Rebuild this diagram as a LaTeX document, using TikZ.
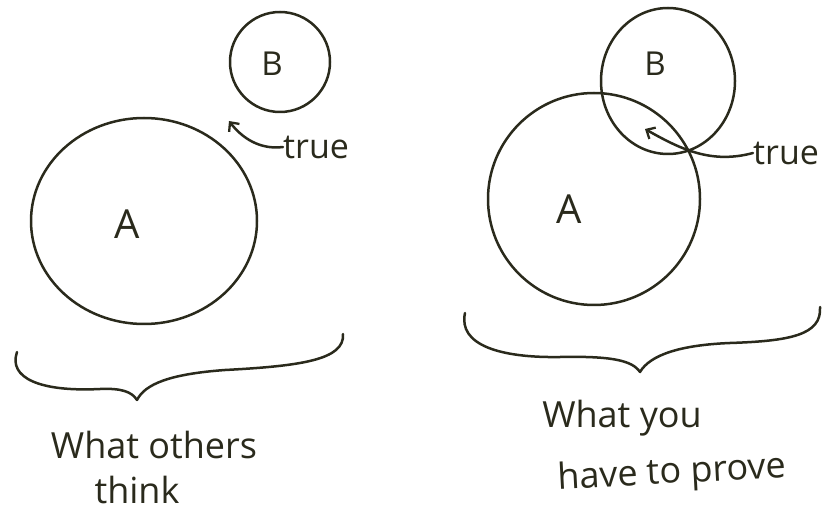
\documentclass[tikz,border=0pt]{standalone}
\usepackage{fontspec}
\setmainfont{Open Sans}
\usetikzlibrary{arrows.meta}
\definecolor{ink}{HTML}{2A2A1C}
\tikzset{
  pen/.style={draw=ink, line width=2.5pt, line cap=round, line join=round},
  lbl/.style={text=ink, inner sep=0pt},
  arr/.style={pen, -{Straight Barb[length=7pt,width=13pt,line width=2.3pt]}},
}
\begin{document}
\begin{tikzpicture}[x=1pt,y=-1pt]
\useasboundingbox (0,0) rectangle (825,513);
% ---- left picture ----
\draw[pen] (144,221) ellipse [x radius=113pt, y radius=103pt];
\draw[pen] (280,62) ellipse [x radius=50pt, y radius=50pt];
\node[lbl, font=\fontsize{40}{40}\selectfont] (Aleft) at (127,224) {A};
\node[lbl, font=\fontsize{33}{33}\selectfont] (Bleft) at (272,64) {B};
\node[lbl, font=\fontsize{34}{34}\selectfont, anchor=west] (trueleft) at (283,147) {true};
\coordinate (tipleft) at (229,121);
\draw[arr] (trueleft.west) .. controls (260,150) and (242,138) .. (tipleft);
\draw[pen] (17,352) .. controls (8,378) and (40,392) .. (100,389)
  .. controls (122,388) and (132,392) .. (137,400)
  .. controls (145,384) and (170,374) .. (225,370)
  .. controls (300,366) and (345,360) .. (343,334);
\node[lbl, font=\fontsize{36}{36}\selectfont] (textleft1) at (154,445) {What others};
\node[lbl, font=\fontsize{36}{36}\selectfont] (textleft2) at (137,490) {think};
% ---- right picture ----
\draw[pen] (594,199) ellipse [x radius=106pt, y radius=106pt];
\draw[pen] (668,81) ellipse [x radius=67pt, y radius=73pt];
\node[lbl, font=\fontsize{40}{40}\selectfont] (Aright) at (569,209) {A};
\node[lbl, font=\fontsize{33}{33}\selectfont] (Bright) at (655,64) {B};
\node[lbl, font=\fontsize{34}{34}\selectfont, anchor=west] (trueright) at (753,153) {true};
\coordinate (tipright) at (645,129);
\draw[arr] (trueright.west) .. controls (712,164) and (682,150) .. (tipright);
\draw[pen] (465,313) .. controls (458,345) and (500,358) .. (560,357)
  .. controls (610,356) and (632,360) .. (640,372)
  .. controls (650,355) and (680,345) .. (730,343)
  .. controls (790,341) and (822,335) .. (820,307);
\node[lbl, font=\fontsize{36}{36}\selectfont] (textright1) at (622,418) {What you};
\node[lbl, font=\fontsize{36}{36}\selectfont, rotate=3] (textright2) at (672,474) {have to prove};
\end{tikzpicture}
\end{document}
